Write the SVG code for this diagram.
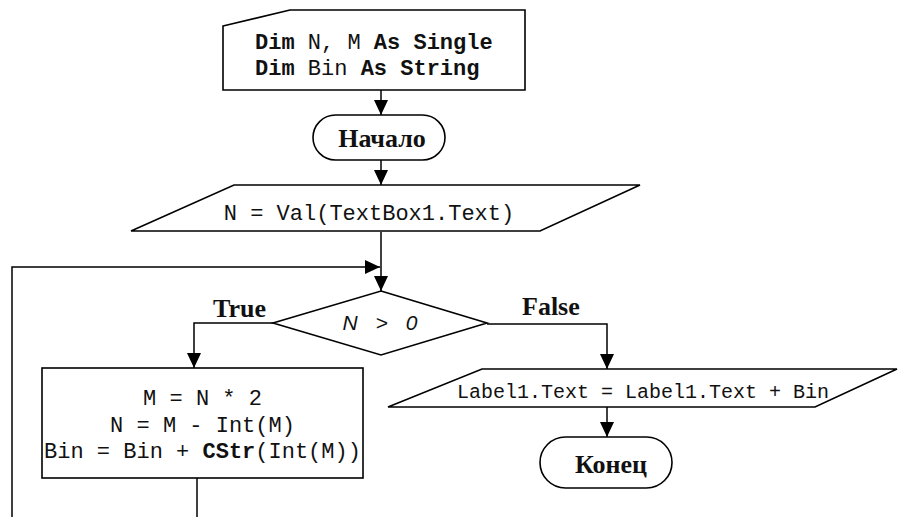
<svg xmlns="http://www.w3.org/2000/svg" width="898" height="517" viewBox="0 0 898 517">
<defs>
<marker id="arr" markerUnits="userSpaceOnUse" markerWidth="16" markerHeight="16" viewBox="0 0 16 16" refX="15" refY="8" orient="auto">
<path d="M0,1 L15,8 L0,15 Z" fill="#000"/>
</marker>
<style>
.shape{fill:#fff;stroke:#000;stroke-width:1.6}
.line{fill:none;stroke:#000;stroke-width:1.5}
.mono{font-family:"Liberation Mono","Courier New",monospace;font-size:22px;fill:#111}
.b{font-weight:bold}
.serif{font-family:"Liberation Serif","Times New Roman",serif;font-size:26px;font-weight:bold;fill:#111}
.cond{font-family:"Liberation Sans",Arial,sans-serif;font-style:italic;font-size:21px;fill:#111}
</style>
</defs>
<rect width="898" height="517" fill="#fff"/>
<g id="connectors">
<path class="line" d="M381,90 V115" marker-end="url(#arr)"/>
<path class="line" d="M381,160 V185" marker-end="url(#arr)"/>
<path class="line" d="M381,232 V291" marker-end="url(#arr)"/>
<path class="line" d="M12,517 V267 H380" marker-end="url(#arr)"/>
<path class="line" d="M273,323 H194 V368" marker-end="url(#arr)"/>
<path class="line" d="M487,324 H607 V369" marker-end="url(#arr)"/>
<path class="line" d="M607,407 V437" marker-end="url(#arr)"/>
<path class="line" d="M197,478 V517"/>
<text class="serif" x="213" y="317">True</text>
<text class="serif" x="522" y="315">False</text>
</g>
<g id="decl">
<path class="shape" d="M223,26 L290,10 H525 V90 H223 Z"/>
<text class="mono" x="255" y="49"><tspan class="b">Dim</tspan> N, M <tspan class="b">As Single</tspan></text>
<text class="mono" x="255" y="75"><tspan class="b">Dim</tspan> Bin <tspan class="b">As String</tspan></text>
</g>
<g id="start">
<rect class="shape" x="313" y="115" width="132" height="45" rx="22.5"/>
<text class="serif" x="382" y="147" text-anchor="middle">Начало</text>
</g>
<g id="input">
<path class="shape" d="M131,231 L234,185 H640 L540,231 Z"/>
<text class="mono" x="369" y="220" text-anchor="middle">N = Val(TextBox1.Text)</text>
</g>
<g id="cond">
<path class="shape" d="M381,291 L487,323 L381,355 L273,323 Z"/>
<text class="cond" x="380" y="330" text-anchor="middle" word-spacing="12">N &gt; 0</text>
</g>
<g id="body">
<rect class="shape" x="42" y="368" width="321" height="110"/>
<text class="mono" x="202.5" y="405" text-anchor="middle">M = N * 2</text>
<text class="mono" x="202.5" y="432" text-anchor="middle">N = M - Int(M)</text>
<text class="mono" x="202.5" y="458" text-anchor="middle">Bin = Bin + <tspan class="b">CStr</tspan>(Int(M))</text>
</g>
<g id="output">
<path class="shape" d="M388,407 L482,369 H897 L815,407 Z"/>
<text class="mono" x="457" y="398" style="font-size:20px">Label1.Text = Label1.Text + Bin</text>
</g>
<g id="end">
<rect class="shape" x="540" y="437" width="132" height="51" rx="25.5"/>
<text class="serif" x="611" y="473" text-anchor="middle">Конец</text>
</g>
</svg>
